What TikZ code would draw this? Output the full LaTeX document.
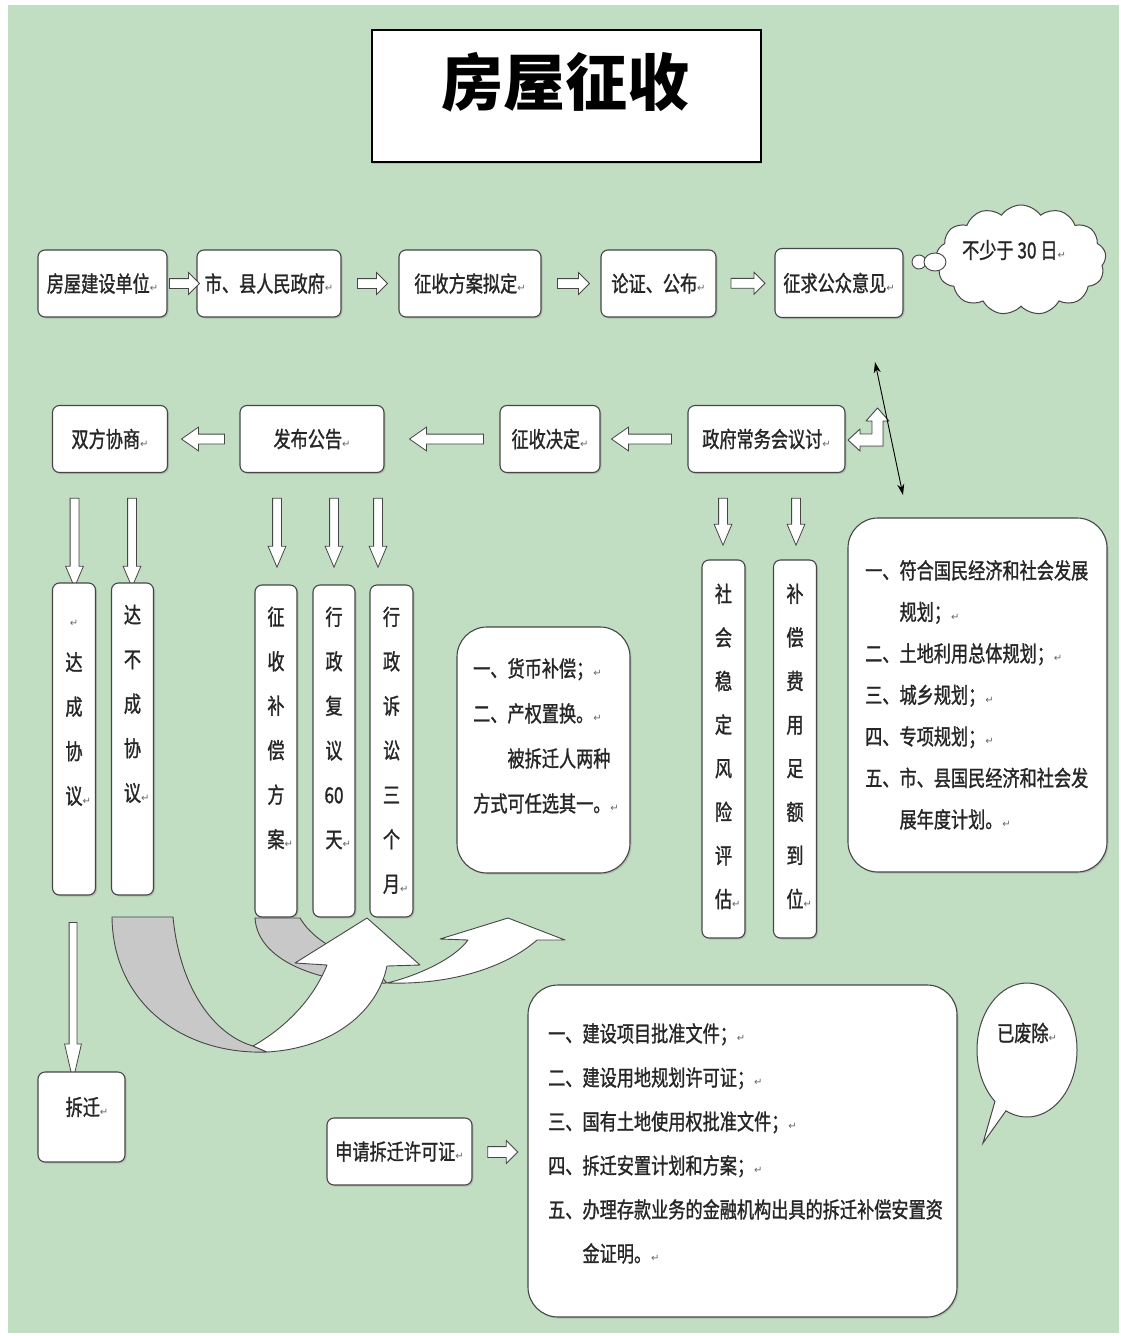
\documentclass[tikz,border=0pt]{standalone}
\usepackage{fontspec}
\newfontfamily\cjk[FakeStretch=0.78,FakeBold=1.2]{Noto Sans CJK SC}
\newfontfamily\cjktitle{Noto Sans CJK SC}
\newfontfamily\symfont{DejaVu Sans}
\usetikzlibrary{shapes.arrows,shapes.symbols,shapes.callouts,shadows,arrows.meta,calc}
\definecolor{bg}{RGB}{193,221,194}
\definecolor{edge}{RGB}{70,70,70}
\definecolor{band}{RGB}{200,200,200}
\newcommand\myret{{\symfont\fontsize{10pt}{10pt}\selectfont\textcolor{black!60}{↵}}}
\newcommand\myretr{\rlap{\myret}}
\tikzset{
  box/.style={draw=edge, line width=1.1pt, fill=white, rounded corners=7pt, inner sep=0pt,
    font=\cjk\fontsize{22pt}{26pt}\selectfont, text=black!85,
    drop shadow={shadow xshift=1.5pt, shadow yshift=-1.5pt, opacity=0.3}},
  bigbox/.style={box, rounded corners=30pt},
  vtext/.style={font=\cjk\fontsize{22pt}{44.5pt}\selectfont, align=center, inner sep=0pt, anchor=north, text=black!85},
  ltext/.style={align=left, inner sep=0pt, anchor=north west, text=black!85},
  arrbase/.style={single arrow, draw=edge, fill=white, line width=0.8pt, minimum width=1pt, single arrow head indent=0pt},
  harr/.style={arrbase, inner sep=4.5pt, single arrow head extend=6pt, single arrow tip angle=90},
  larr/.style={arrbase, inner sep=4.5pt, single arrow head extend=7pt, single arrow tip angle=70, shape border rotate=180},
  varr/.style={arrbase, inner sep=4pt, single arrow head extend=4.5pt, single arrow tip angle=46, shape border rotate=270},
  thinarr/.style={arrbase, inner sep=3.5pt, single arrow head extend=4.5pt, single arrow tip angle=26, shape border rotate=270},
  curv/.style={draw=edge, line width=0.9pt, line join=round},
}
\begin{document}
\begin{tikzpicture}[x=1pt, y=-1pt]
\useasboundingbox (0,0) rectangle (1121,1336);
\fill[white] (0,0) rectangle (1121,1336);
\fill[bg] (8,5) rectangle (1119,1333);

% title
\node[draw=black, line width=1.5pt, fill=white, minimum width=389pt, minimum height=132pt, inner sep=0pt,
  drop shadow={shadow xshift=0pt, shadow yshift=-2pt, opacity=0.3}] (title) at (566.5,96) {};
\node[font=\cjktitle\bfseries\fontsize{62pt}{62pt}\selectfont, inner sep=0pt] (titlet) at (565,82) {房屋征收};

% row 1
\node[box, minimum width=129pt, minimum height=67pt] (n1) at (102.5,283.5) {房屋建设单位\myret};
\node[box, minimum width=144pt, minimum height=67pt] (n2) at (269,283.5) {市、县人民政府\myret};
\node[box, minimum width=142pt, minimum height=67pt] (n3) at (470,283.5) {征收方案拟定\myret};
\node[box, minimum width=115pt, minimum height=67pt] (n4) at (658.5,283.5) {论证、公布\myret};
\node[box, minimum width=128pt, minimum height=69pt] (n5) at (839,283) {征求公众意见\myret};
\node[harr, minimum height=30pt] (a1) at ($(n1.east)!0.5!(n2.west)$) {};
\node[harr, minimum height=30pt] (a2) at ($(n2.east)!0.5!(n3.west)$) {};
\node[harr, minimum height=32pt] (a3) at ($(n3.east)!0.5!(n4.west)$) {};
\node[harr, minimum height=34pt] (a4) at ($(n4.east)!0.5!(n5.west)$) {};

% cloud
\node[cloud, cloud puffs=13, cloud puff arc=110, aspect=1.6, draw=edge, line width=1pt, fill=white,
  minimum width=170pt, minimum height=110pt, inner sep=0pt] (cl) at (1021,260) {};
\draw[draw=edge, line width=0.9pt, fill=white] (919,262) ellipse [x radius=7, y radius=7];
\draw[draw=edge, line width=0.9pt, fill=white] (935,262) ellipse [x radius=11, y radius=9];
\node[font=\cjk\fontsize{22pt}{26pt}\selectfont, inner sep=0pt, text=black!85] (clt) at (1014,250) {不少于 30 日\myret};

% row 2
\node[box, minimum width=115pt, minimum height=67pt] (m1) at (110,439) {双方协商\myret};
\node[box, minimum width=144pt, minimum height=67pt] (m2) at (312,439) {发布公告\myret};
\node[box, minimum width=100pt, minimum height=67pt] (m3) at (550,439) {征收决定\myret};
\node[box, minimum width=157pt, minimum height=67pt] (m4) at (766.5,439) {政府常务会议讨\myret};
\node[larr, minimum height=43pt] (b1) at (206.5,439) {};
\node[larr, minimum height=74pt] (b2) at (450,439) {};
\node[larr, minimum height=60pt] (b3) at (645,439) {};

% bent arrow and double-headed line
\draw[curv, fill=white, drop shadow={shadow xshift=1pt, shadow yshift=-1pt, opacity=0.3}]
  (848,440) -- (860,429) -- (860,434) -- (872,434) -- (872,421) -- (866,421) -- (877.5,408)
  -- (889,421) -- (883,421) -- (883,446) -- (860,446) -- (860,451) -- cycle;
\coordinate (dt) at (875,362);
\coordinate (db) at (903,495);
\draw[{Stealth[length=11pt,width=7pt]}-{Stealth[length=11pt,width=7pt]}, line width=0.9pt, black] (dt) -- (db);

% vertical arrows
\node[varr, minimum height=89pt] (c1) at (74.5,537.5) {};
\node[varr, minimum height=89pt] (c2) at (132,537.5) {};
\node[varr, minimum height=69pt] (c3) at (277,527.5) {};
\node[varr, minimum height=69pt] (c4) at (334,527.5) {};
\node[varr, minimum height=69pt] (c5) at (378,527.5) {};
\node[varr, minimum height=47pt] (c6) at (723,516.5) {};
\node[varr, minimum height=47pt] (c7) at (796,516.5) {};

% curved arrows (behind boxes)
\draw[curv, fill=band] (255,918) -- (300,918) .. controls (310,935) and (330,950) .. (370,965)
  -- (387,983) .. controls (330,985) and (258,965) .. (255,918) -- cycle;
\draw[curv, fill=band] (112,917) -- (173,917) .. controls (180,990) and (215,1035) .. (253,1046)
  -- (267,1052) .. controls (185,1055) and (113,1005) .. (112,917) -- cycle;
\draw[curv, fill=white] (253,1046) .. controls (290,1025) and (315,995) .. (327,965) -- (295,963)
  -- (367,918) -- (420,965) -- (387,966) .. controls (378,1010) and (335,1048) .. (267,1052) -- cycle;
\draw[curv, fill=white] (387,983) .. controls (420,975) and (455,958) .. (468,940) -- (440,939)
  -- (508,918) -- (565,940) -- (537,940) .. controls (505,968) and (450,985) .. (387,983) -- cycle;

% vertical boxes
\node[box, minimum width=43pt, minimum height=312pt] (v1) at (74,739) {};
\node[box, minimum width=42pt, minimum height=312pt] (v2) at (132.5,739) {};
\node[box, minimum width=42pt, minimum height=332pt] (v3) at (276,751) {};
\node[box, minimum width=42pt, minimum height=332pt] (v4) at (334,751) {};
\node[box, minimum width=43pt, minimum height=332pt] (v5) at (391.5,751) {};
\node[box, minimum width=43pt, minimum height=378pt] (v6) at (723.5,749) {};
\node[box, minimum width=43pt, minimum height=378pt] (v7) at (795,749) {};
\node[vtext] (t1) at ($(v1.north)+(0,25)$) {\vphantom{达}\myret\\达\\成\\协\\议\myretr};
\node[vtext] (t2) at ($(v2.north)+(0,22)$) {达\\不\\成\\协\\议\myretr};
\node[vtext] (t3) at ($(v3.north)+(0,22)$) {征\\收\\补\\偿\\方\\案\myretr};
\node[vtext] (t4) at ($(v4.north)+(0,22)$) {行\\政\\复\\议\\60\\天\myretr};
\node[vtext] (t5) at ($(v5.north)+(0,22)$) {行\\政\\诉\\讼\\三\\个\\月\myretr};
\node[vtext, font=\cjk\fontsize{22pt}{43.6pt}\selectfont] (t6) at ($(v6.north)+(0,24)$) {社\\会\\稳\\定\\风\\险\\评\\估\myretr};
\node[vtext, font=\cjk\fontsize{22pt}{43.6pt}\selectfont] (t7) at ($(v7.north)+(0,24)$) {补\\偿\\费\\用\\足\\额\\到\\位\myretr};

% compensation box
\node[bigbox, minimum width=173pt, minimum height=246pt] (cp) at (543.5,750) {};
\node[ltext, font=\cjk\fontsize{22pt}{45pt}\selectfont] (cpt) at (473,658)
  {一、货币补偿；\myret\\二、产权置换。\myret\\\phantom{一、}被拆迁人两种\\方式可任选其一。\myret};

% right planning box
\node[bigbox, minimum width=259pt, minimum height=354pt] (rp) at (977.5,695) {};
\node[ltext, font=\cjk\fontsize{22pt}{41.5pt}\selectfont] (rpt) at (865,560)
  {一、符合国民经济和社会发展\\\phantom{一、}规划；\myret\\二、土地利用总体规划；\myret\\三、城乡规划；\myret\\四、专项规划；\myret\\五、市、县国民经济和社会发\\\phantom{五、}展年度计划。\myret};

% demolition
\node[thinarr, minimum height=158pt] (d1) at (73,993) {};
\node[box, minimum width=87pt, minimum height=90pt] (cq) at (81.5,1117) {};
\node[font=\cjk\fontsize{22pt}{26pt}\selectfont, inner sep=0pt, text=black!85] (cqt) at (87,1107) {拆迁\myret};

% permit
\node[box, minimum width=145pt, minimum height=67pt] (sq) at (399.5,1151.5) {申请拆迁许可证\myret};
\node[harr, minimum height=30pt, inner sep=5pt] (e1) at (500,1152) {};

% bottom list box
\node[bigbox, minimum width=429pt, minimum height=332pt] (lb) at (742.5,1151) {};
\node[ltext, font=\cjk\fontsize{22pt}{44pt}\selectfont] (lbt) at (548,1023)
  {一、建设项目批准文件；\myret\\二、建设用地规划许可证；\myret\\三、国有土地使用权批准文件；\myret\\四、拆迁安置计划和方案；\myret\\五、办理存款业务的金融机构出具的拆迁补偿安置资\\\phantom{五、}金证明。\myret};

% speech bubble
\coordinate (sptip) at (983,1143);
\node[ellipse callout, draw=edge, line width=1pt, fill=white, minimum width=100pt, minimum height=134pt,
  callout absolute pointer={(sptip)}] (sp) at (1027,1050) {};
\node[font=\cjk\fontsize{22pt}{26pt}\selectfont, inner sep=0pt, text=black!85] (spt) at (1027,1033) {已废除\myret};
\end{tikzpicture}
\end{document}
